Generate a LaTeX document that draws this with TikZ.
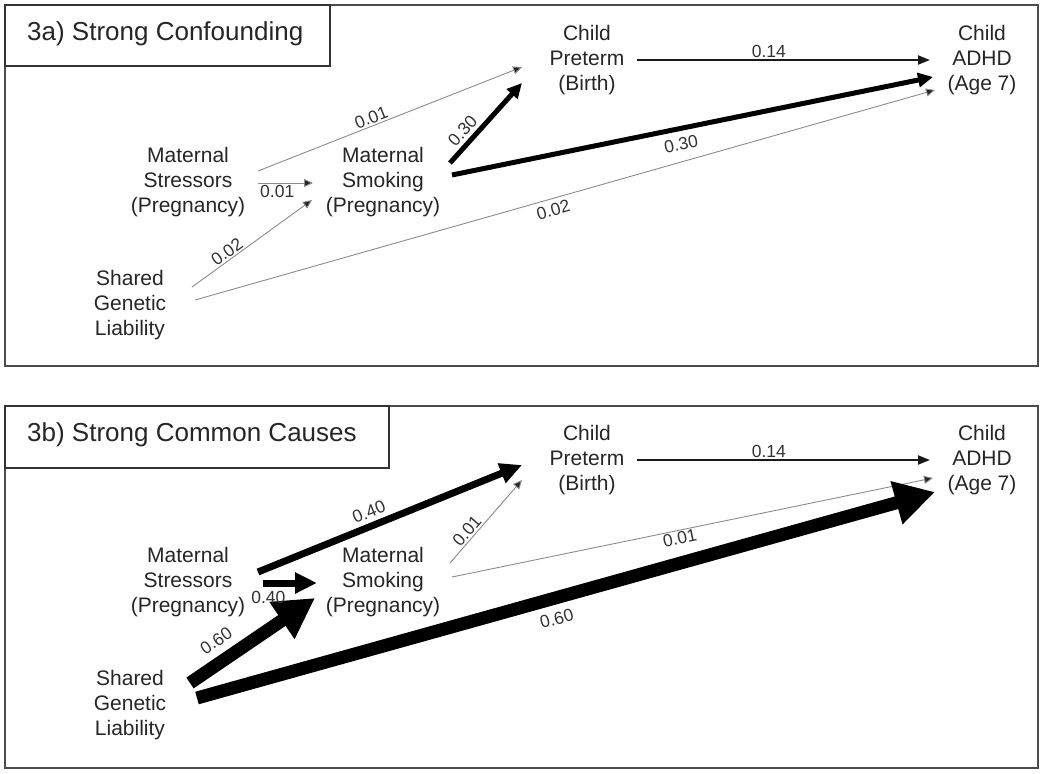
\documentclass[tikz,border=0pt]{standalone}
\usepackage{fontspec}
\setmainfont{Liberation Sans}
\usetikzlibrary{arrows.meta}
\begin{document}
\begin{tikzpicture}[x=1pt,y=-1pt,
  var/.style={align=center,inner sep=0pt,text=black!85,font=\fontsize{21}{25}\selectfont},
  ttl/.style={anchor=west,inner sep=0pt,text=black!85,font=\fontsize{26}{30}\selectfont},
  lab/.style={inner sep=1.5pt,text=black!80,font=\fontsize{17.5}{19}\selectfont},
  frame/.style={draw=black!70,line width=2pt},
  tbox/.style={draw=black!80,line width=1.5pt},
  weak/.style={draw=black!45,line width=0.9pt,-{Triangle[length=9pt,width=8pt,fill=black!85]}},
  mid/.style={draw=black!90,line width=1.8pt,-{Triangle[length=12pt,width=9pt]}},
  strong/.style={draw=black,line width=5pt,-{Triangle[length=15pt,width=14pt]}},
  stronger/.style={draw=black,line width=7pt,-{Triangle[length=22pt,width=20pt]}},
  strongest/.style={draw=black,line width=13pt,-{Triangle[length=40pt,width=42pt]}}]
\useasboundingbox (0,0) rectangle (1050,774);
\fill[white] (0,0) rectangle (1050,774);

% ---------- panel a ----------
\draw[frame] (5,5) rectangle (1038,366);
\draw[tbox] (5,5) rectangle (330,66);
\node[ttl] (ta) at (27,34) {3a) Strong Confounding};

\node[var] (msa) at (188,182) {Maternal\\Stressors\\(Pregnancy)};
\node[var] (sma) at (383,182) {Maternal\\Smoking\\(Pregnancy)};
\node[var] (sga) at (130,305) {Shared\\Genetic\\Liability};
\node[var] (cpa) at (587,60) {Child\\Preterm\\(Birth)};
\node[var] (ada) at (982,60) {Child\\ADHD\\(Age 7)};

\draw[weak] ([shift={(70,-11)}]msa.center) -- node[lab,pos=0.44,sloped,above]{0.01} ([shift={(-65,7)}]cpa.center);
\draw[weak] ([shift={(70,1)}]msa.center) -- node[lab,pos=0.35,below]{0.01} ([shift={(-70,1)}]sma.center);
\draw[weak] ([shift={(62,-18)}]sga.center) -- node[lab,pos=0.33,sloped,above]{0.02} ([shift={(-71,18)}]sma.center);
\draw[weak] ([shift={(65,-5)}]sga.center) -- node[lab,pos=0.48,sloped,below=3pt]{0.02} ([shift={(-47,30)}]ada.center);
\draw[strong] ([shift={(67,-19)}]sma.center) -- node[lab,pos=0.3,sloped,above=2pt]{0.30} ([shift={(-65,23)}]cpa.center);
\draw[strong] ([shift={(69,-7)}]sma.center) -- node[lab,pos=0.47,sloped,below=5pt]{0.30} ([shift={(-49,17)}]ada.center);
\draw[mid] ([shift={(50,0)}]cpa.center) -- node[lab,pos=0.45,above]{0.14} ([shift={(-52,0)}]ada.center);

% ---------- panel b ----------
\draw[frame] (5,406) rectangle (1038,768);
\draw[tbox] (5,406) rectangle (389,468);
\node[ttl] (tb) at (27,435) {3b) Strong Common Causes};

\node[var] (msb) at (188,582) {Maternal\\Stressors\\(Pregnancy)};
\node[var] (smb) at (383,582) {Maternal\\Smoking\\(Pregnancy)};
\node[var] (sgb) at (130,705) {Shared\\Genetic\\Liability};
\node[var] (cpb) at (587,460) {Child\\Preterm\\(Birth)};
\node[var] (adb) at (982,460) {Child\\ADHD\\(Age 7)};

\draw[stronger] ([shift={(70,-10)}]msb.center) -- node[lab,pos=0.44,sloped,above=3pt]{0.40} ([shift={(-65,5)}]cpb.center);
\draw[weak] ([shift={(67,-19)}]smb.center) -- node[lab,pos=0.32,sloped,above]{0.01} ([shift={(-65,20)}]cpb.center);
\draw[weak] ([shift={(69,-5)}]smb.center) -- node[lab,pos=0.47,sloped,below]{0.01} ([shift={(-49,18)}]adb.center);
\draw[strongest] ([shift={(67,-7)}]sgb.center) -- node[lab,pos=0.48,sloped,below=6pt]{0.60} ([shift={(-47,32)}]adb.center);
\draw[strongest] ([shift={(60,-22)}]sgb.center) -- node[lab,pos=0.3,sloped,above=6pt]{0.60} ([shift={(-68,16)}]smb.center);
\draw[stronger] ([shift={(75,1)}]msb.center) -- node[lab,pos=0.1,below=3pt]{0.40} ([shift={(-66,1)}]smb.center);
\draw[mid] ([shift={(50,0)}]cpb.center) -- node[lab,pos=0.45,above]{0.14} ([shift={(-52,0)}]adb.center);
\end{tikzpicture}
\end{document}
